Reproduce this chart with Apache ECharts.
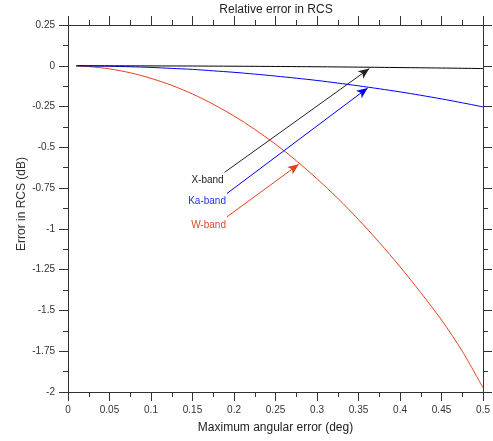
<!DOCTYPE html>
<html>
<head>
<meta charset="utf-8">
<script src="https://cdn.jsdelivr.net/npm/echarts@6/dist/echarts.min.js"></script>
<style>
html,body{margin:0;padding:0;background:#fff;}
#chart{width:493px;height:441px;}
</style>
</head>
<body>
<div id="chart"></div>
<script>
// ---- data ----
var angles = [0.01, 0.025, 0.05, 0.075, 0.1, 0.125, 0.15, 0.175, 0.2, 0.225, 0.25,
              0.275, 0.3, 0.325, 0.35, 0.375, 0.4, 0.425, 0.45, 0.475, 0.5];
var xBand  = [0, 0, -0.0002, -0.0004, -0.0007, -0.0011, -0.0015, -0.0021, -0.0027, -0.0034, -0.0043,
              -0.0051, -0.006, -0.0071, -0.0083, -0.0096, -0.011, -0.0124, -0.0138, -0.0154, -0.017];
var kaBand = [0, -0.001, -0.003, -0.006, -0.01, -0.016, -0.022, -0.031, -0.04, -0.051, -0.063,
              -0.076, -0.09, -0.106, -0.123, -0.141, -0.16, -0.181, -0.203, -0.227, -0.252];
var wBand  = [-0.001, -0.005, -0.019, -0.043, -0.077, -0.12, -0.173, -0.236, -0.308, -0.39, -0.481,
              -0.582, -0.693, -0.813, -0.943, -1.083, -1.232, -1.391, -1.559, -1.75, -1.975];
var seriesNames = ['W-band', 'Ka-band', 'X-band'];
// annotation arrows: label, start [x,y], end [x,y] (data coordinates)
var annLabels = ['X-band', 'Ka-band', 'W-band'];
var annStart  = [[0.1887, -0.653], [0.1915, -0.783], [0.1915, -0.926]];
var annEnd    = [[0.363, -0.017], [0.361, -0.136], [0.278, -0.604]];

var titleText = 'Relative error in RCS';
var xName = 'Maximum angular error (deg)';
var yName = 'Error in RCS (dB)';

// ---- styling ----
var colors = {'X-band': '#000000', 'Ka-band': '#0000ff', 'W-band': '#e8401c'};
var textColors = {'X-band': '#222222', 'Ka-band': '#2233ee', 'W-band': '#e04a28'};
var FONT = 'Liberation Sans, Arial, sans-serif';
var axisColor = '#333333';

function pairs(xs, ys) { return xs.map(function (x, i) { return [x, ys[i]]; }); }
var valuesByName = {'X-band': xBand, 'Ka-band': kaBand, 'W-band': wBand};

var chart = echarts.init(document.getElementById('chart'), null, {renderer: 'canvas'});

function axisCommon(extra) {
  var a = {
    type: 'value',
    axisLine: {show: true, onZero: false, lineStyle: {color: axisColor, width: 1}},
    axisTick: {show: true, inside: false, length: 9, lineStyle: {color: axisColor}},
    minorTick: {show: true, splitNumber: 2, length: 5, lineStyle: {color: axisColor}},
    splitLine: {show: false},
    minorSplitLine: {show: false},
    axisLabel: {show: true, color: '#333', fontFamily: FONT, fontSize: 10, margin: 13}
  };
  for (var k in extra) a[k] = extra[k];
  return a;
}

var series = seriesNames.map(function (n) {
  return {
    name: n, type: 'line', xAxisIndex: 0, yAxisIndex: 0,
    data: pairs(angles, valuesByName[n]),
    showSymbol: false, symbol: 'none', smooth: 0.3,
    lineStyle: {color: colors[n], width: 1},
    silent: true, animation: false, z: 2
  };
});

// annotation arrows via markLine on a helper series
var arrowData = annLabels.map(function (lab, i) {
  return [
    {coord: annStart[i], symbol: 'none', lineStyle: {color: lab === 'X-band' ? '#222' : colors[lab], width: 1}},
    {coord: annEnd[i], symbol: 'arrow', symbolSize: [7, 11]}
  ];
});
var labelPoints = annLabels.map(function (lab, i) {
  return {
    coord: annStart[i], symbol: 'circle', symbolSize: 0,
    label: {show: true, formatter: lab, position: 'left', distance: 0, offset: [-1, 8],
            color: textColors[lab], fontFamily: FONT, fontSize: 10}
  };
});
series.push({
  type: 'line', name: 'annotations', data: [], xAxisIndex: 0, yAxisIndex: 0, animation: false,
  markLine: {silent: true, animation: false, symbol: ['none', 'arrow'], symbolSize: [7, 11],
             label: {show: false}, lineStyle: {type: 'solid', width: 1}, data: arrowData},
  markPoint: {silent: true, animation: false, data: labelPoints}
});

var option = {
  animation: false,
  backgroundColor: '#ffffff',
  grid: {left: 68, right: 9, top: 25, bottom: 49, containLabel: false},
  xAxis: [
    axisCommon({position: 'bottom', min: 0, max: 0.5, interval: 0.05,
      name: xName, nameLocation: 'middle', nameGap: 30,
      nameTextStyle: {fontFamily: FONT, fontSize: 12, color: '#222'}}),
    axisCommon({position: 'top', min: 0, max: 0.5, interval: 0.05,
      axisLabel: {show: false}})
  ],
  yAxis: [
    axisCommon({position: 'left', min: -2, max: 0.25, interval: 0.25}),
    axisCommon({position: 'right', min: -2, max: 0.25, interval: 0.25,
      axisLabel: {show: false}})
  ],
  graphic: [{
    type: 'text', x: 276, y: 10,
    style: {text: titleText, fill: '#222', font: '12px ' + FONT, textAlign: 'center', textVerticalAlign: 'middle'}
  }, {
    type: 'text', x: 22, y: 204, rotation: Math.PI / 2,
    style: {text: yName, fill: '#333', font: '12px ' + FONT, textAlign: 'center', textVerticalAlign: 'middle'}
  }],
  series: series
};
chart.setOption(option);
</script>
</body>
</html>
